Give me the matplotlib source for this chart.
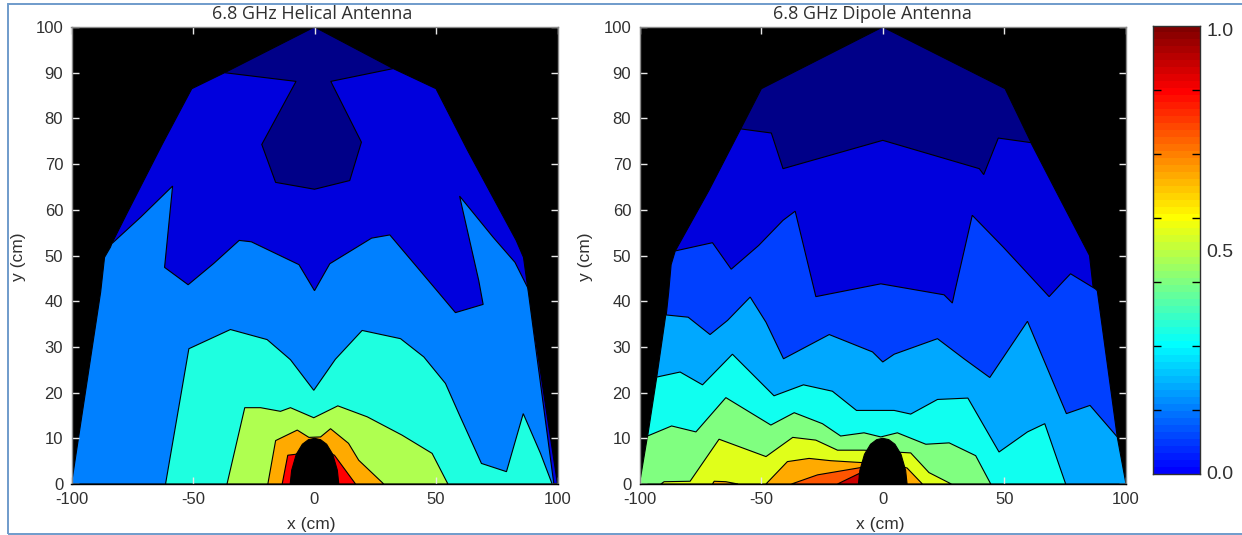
import numpy as np
import matplotlib
matplotlib.use("Agg")
import matplotlib.pyplot as plt
from matplotlib.colors import LinearSegmentedColormap
from matplotlib.patches import Rectangle

plt.rcParams['font.family'] = ['Liberation Sans', 'DejaVu Sans']
plt.rcParams['axes.unicode_minus'] = False

# ---------- data: contour level boundaries (x cm, y cm) ----------
bullet_x = [-10, -9.4, -7.5, -5, -2.5, 0, 2.5, 5, 7.5, 9.4, 10]
bullet_y = [0, 3, 6.5, 8.7, 9.7, 10, 9.7, 8.7, 6.5, 3, 0]

# Helical antenna
hel_1x = [-100, -88, -86.4, -84, -77.4, -62.5, -50.5, -37, 0, 32.4, 50, 63, 83, 86, 88, 100]
hel_1y = [0, 42, 49.6, 52, 59, 74.5, 86.5, 90, 100, 90.9, 86.5, 73, 53.3, 49.6, 42, 0]
hel_2x = [-100, -88, -86.4, -84, -77.4, -62.5, -50.5, -37, -7.6, -21.7, -16, 0, 14.5, 19.3, 6.7, 32.4, 50, 63, 83, 86, 88, 100]
hel_2y = [0, 42, 49.6, 52, 59, 74.5, 86.5, 90, 88.1, 74.3, 66, 64.5, 66.4, 74.8, 88.1, 90.9, 86.5, 73, 53.3, 49.6, 42, 0]
hel_3x = [-100, -88, -86.4, -84, -83.4, -79.7, -71.5, -58.4, -61.7, -52, -41.6, -31, -26, -6.4, 0, 6.3, 23.5, 31, 50.4, 58, 69.4, 67.6, 60, 59.7, 73.5, 82.5, 87.7, 88, 98.5, 100]
hel_3y = [0, 42, 49.6, 51.8, 52.6, 54.4, 58.4, 65.2, 47.4, 43.6, 48.2, 53.3, 53, 48, 42.3, 48.2, 53.8, 54.5, 42.3, 37.5, 39.3, 44.5, 62.3, 63, 54, 48.5, 43, 42, 0, 0]
hel_4x = [-61.3, -51.7, -34.6, -19.5, -9.9, -0.3, 8.6, 19.6, 35.4, 45, 53.9, 59.4, 68.7, 79, 85.9, 93, 97.8]
hel_4y = [0, 29.6, 33.8, 31.6, 27.2, 20.5, 27.3, 33.6, 31.8, 27.8, 22, 15.4, 4.5, 2.7, 15.4, 6.7, 0]
hel_5x = [-36, -28.7, -22.2, -14, -9.9, -0.3, 9.6, 21.7, 36, 48.4, 54.9]
hel_5y = [0, 16.7, 16.7, 15.9, 16.7, 14.5, 17.1, 14.7, 10.7, 6.7, 0]
hel_6x = [-19.2, -16, -7.1, -2.3, 2.5, 6.6, 14, 18.2, 28.5]
hel_6y = [0, 9.5, 11.8, 10.2, 10.3, 12.1, 8.9, 5.2, 0]
hel_7x = [-13.3, -11, -7.8, 0, 8.2, 16.9]
hel_7y = [0, 6.3, 6.5, 8, 6.3, 0]

# Dipole antenna
dip_1x = [-100, -96.7, -92.9, -89, -88, -87, -85.3, -71.5, -58.4, -49.9, 0, 50.3, 60.9, 71.4, 85, 86.7, 88.2, 96.4, 100]
dip_1y = [0, 10.3, 23.4, 37, 42, 48, 51, 64.2, 77.7, 86.5, 100, 86.5, 74.8, 63.9, 50, 42, 42.3, 10.3, 0]
dip_2x = [-100, -96.7, -92.9, -89, -88, -87, -85.3, -71.5, -58.4, -45.8, -41, 0, 39.7, 41.5, 47.5, 60.9, 71.4, 85, 86.7, 88.2, 96.4, 100]
dip_2y = [0, 10.3, 23.4, 37, 42, 48, 51, 64.2, 77.7, 76.8, 69, 75.2, 69, 67.7, 75.7, 74.7, 63.9, 50, 42, 42.3, 10.3, 0]
dip_3x = [-100, -96.7, -92.9, -89, -88, -87, -85.3, -70, -62.3, -51, -41, -36, -27.5, -0.8, 25.2, 28.6, 29.7, 36.8, 49.6, 68.4, 74.5, 77.2, 87.4, 88.2, 96.4, 100]
dip_3y = [0, 10.3, 23.4, 37, 42, 48, 51, 52.8, 47, 52.2, 57.7, 59.7, 41, 43.8, 41.4, 39.6, 42.3, 58.8, 51.8, 41, 44.5, 46, 42.7, 42.3, 10.3, 0]
dip_4x = [-100, -96.7, -92.9, -89.2, -80, -71, -63.8, -54.5, -48, -40.8, -22, -4.2, 0, 4.7, 22.5, 33.4, 44, 59.5, 75.5, 85.2, 96.4, 100]
dip_4y = [0, 10.3, 23.4, 37, 36.5, 32.7, 35.8, 40.9, 35.4, 27.4, 32.7, 28.9, 26.7, 28.4, 31.8, 27.4, 23.3, 35.6, 15.4, 17.2, 10.3, 0]
dip_5x = [-100, -96.7, -92.9, -83.3, -74.1, -61.8, -44.7, -32.6, -20.7, -10.8, 4.7, 11.5, 22.5, 35, 47.8, 59.5, 66.6, 75.2]
dip_5y = [0, 10.3, 23.4, 24.5, 21.7, 28.4, 19.3, 21.7, 20.3, 16.1, 16.1, 15.3, 18.5, 18.8, 7, 11.4, 13.2, 0]
dip_6x = [-100, -96.7, -86.8, -76.8, -64.5, -46, -36.4, -24.8, -17.3, -7.7, -0.8, 6, 17.7, 27.3, 38.2, 44.4]
dip_6y = [0, 10.5, 12.7, 11.4, 18.9, 12.9, 15.6, 13.2, 10.5, 11.2, 10.3, 11.2, 8.7, 9, 6.2, 0]
dip_7x = [-91.2, -89.9, -79.2, -67.3, -48, -37, -27.5, -18.6, -7.7, 11.5, 19, 28.2]
dip_7y = [0, 0.5, 0.6, 9.8, 6, 10.2, 9.6, 7.4, 7.4, 6.8, 2.5, 0]
dip_8ax = [-70, -69.3, -64.5, -59.5]
dip_8ay = [0, 0.6, 0.5, 0]
dip_8x = [-48, -39.2, -30.3, -21.4, -9, 0, 10, 16.3]
dip_8y = [0, 4.9, 5.6, 5.1, 4.7, 5, 3.5, 0]
dip_9x = [-37.5, -26.8, -9, -9]
dip_9y = [0, 2, 3.6, 0]
dip_10x = [-18.6, -9.7, -9]
dip_10y = [0, 2.3, 0]

x_ticks = [-100, -50, 0, 50, 100]
y_ticks = [0, 10, 20, 30, 40, 50, 60, 70, 80, 90, 100]
cbar_labels = [0.0, 0.5, 1.0]
cbar_minor = [1/7, 2/7, 3/7, 4/7, 5/7, 6/7]
jet_anchors = ['#0000ff', '#0080ff', '#00ffff', '#80ff80', '#ffff00', '#ff8000', '#ff0000', '#800000']

helical_levels = [(hel_1x, hel_1y, '#000088'), (hel_2x, hel_2y, '#0000dd'),
                  (hel_3x, hel_3y, '#0080ff'), (hel_4x, hel_4y, '#1effe0'),
                  (hel_5x, hel_5y, '#afff50'), (hel_6x, hel_6y, '#ffaa00'),
                  (hel_7x, hel_7y, '#ff0000')]
dipole_levels = [(dip_1x, dip_1y, '#000088'), (dip_2x, dip_2y, '#0000dd'),
                 (dip_3x, dip_3y, '#0040ff'), (dip_4x, dip_4y, '#00a8ff'),
                 (dip_5x, dip_5y, '#10fff0'), (dip_6x, dip_6y, '#80ff80'),
                 (dip_7x, dip_7y, '#e0ff1a'), (dip_8ax, dip_8ay, '#ffaa00'),
                 (dip_8x, dip_8y, '#ffaa00'), (dip_9x, dip_9y, '#ff5500'),
                 (dip_10x, dip_10y, '#cc0000')]

W, H = 1242, 535
fig = plt.figure(figsize=(W/100, H/100), dpi=100, facecolor='white')

def px_axes(x0, x1, ytop, ybot):
    return fig.add_axes([x0/W, 1-ybot/H, (x1-x0)/W, (ybot-ytop)/H])

TEXT = '#303030'

def panel(ax, levels, title, title_x):
    ax.set_facecolor('black')
    for xs, ys, c in levels:
        ax.fill(xs, ys, facecolor=c, edgecolor='black', linewidth=0.8, joinstyle='miter')
    ax.fill(bullet_x, bullet_y, facecolor='black', edgecolor='black', linewidth=0.8, zorder=5)
    ax.set_xlim(-100, 100)
    ax.set_ylim(0, 100)
    ax.set_xticks(x_ticks)
    ax.set_xticklabels([str(v) for v in x_ticks])
    ax.set_yticks(y_ticks)
    ax.tick_params(direction='in', length=5, width=1, color='#e8e8e8', top=True, right=True,
                   labelsize=12, labelcolor=TEXT, pad=6)
    for t in ax.xaxis.get_major_ticks() + ax.yaxis.get_major_ticks():
        t.tick1line.set_zorder(10)
        t.tick2line.set_zorder(10)
    ax.set_xlabel('x (cm)', fontsize=12.5, color=TEXT, va='center', ha='center')
    ax.xaxis.set_label_coords(0.494, -0.0897)
    ax.set_ylabel('y (cm)', fontsize=12.5, color=TEXT, va='center', ha='center')
    ax.yaxis.set_label_coords(-0.110, 0.497)
    ax.set_title(title, fontsize=13, color=TEXT, pad=6, x=title_x, family=['Open Sans', 'DejaVu Sans'])
    for name, s in ax.spines.items():
        s.set_color('#000000' if name == 'bottom' else '#8a8a8a')
        s.set_linewidth(1)
        s.set_zorder(9)

ax1 = px_axes(71.5, 557.5, 27, 484)
panel(ax1, helical_levels, '6.8 GHz Helical Antenna', 0.495)
ax2 = px_axes(639.5, 1126, 27, 484)
panel(ax2, dipole_levels, '6.8 GHz Dipole Antenna', 0.479)

cax = px_axes(1153, 1200, 26, 474)
jet = LinearSegmentedColormap.from_list('m_jet', jet_anchors, N=64)
grad = np.linspace(0, 1, 64).reshape(-1, 1)
cax.imshow(grad, origin='lower', aspect='auto', cmap=jet, extent=[0, 1, 0, 1], interpolation='nearest')
cax.set_xticks([])
cax.set_yticks(cbar_minor)
cax.set_yticklabels([])
cax.tick_params(axis='y', direction='in', length=6, width=1, color='#000000', left=True, right=True, labelleft=False)
for v in cbar_labels:
    cax.text(1.13, 0.5 + (v - 0.5) * 0.991 - 3/448, f'{v:.1f}', transform=cax.transAxes,
             va='center', ha='left', fontsize=14, color=TEXT)
for s in cax.spines.values():
    s.set_color('#303030')
    s.set_linewidth(1)

# window frame
fig.add_artist(Rectangle((7.5/W, 1-533.5/H), 1300/W, 530/H, transform=fig.transFigure,
                         fill=False, edgecolor='#6f9bcb', linewidth=1.4))

fig.savefig('out.png', dpi=100, facecolor='white')
